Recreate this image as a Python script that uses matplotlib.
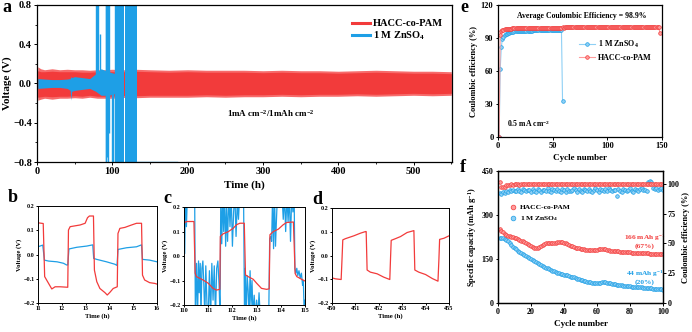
import matplotlib
matplotlib.use('Agg')
from matplotlib import pyplot as plt
from matplotlib.ticker import MultipleLocator

RED = '#f23b3b'
RED_LIGHT = '#ff9c9c'
BLUE = '#1e9fe6'
BLUE_LIGHT = '#8fd0f5'

plt.rcParams['font.family'] = ['Liberation Serif', 'DejaVu Serif']
plt.rcParams['font.weight'] = 'bold'
plt.rcParams['axes.labelweight'] = 'bold'
plt.rcParams['mathtext.default'] = 'regular'
plt.rcParams['axes.linewidth'] = 0.9

# ---- panel a: long-term cycling (envelopes)
red_env_t = [1, 5, 10, 20, 30, 40, 50, 60, 70, 80, 90, 100, 110, 120, 130, 150, 175,
             200, 225, 250, 275, 300, 325, 350, 375, 400, 425, 450, 475, 500, 525, 550]
red_env_hi = [0.17, 0.15, 0.14, 0.15, 0.14, 0.145, 0.14, 0.14, 0.135, 0.14, 0.14, 0.145,
              0.14, 0.14, 0.145, 0.14, 0.135, 0.14, 0.135, 0.135, 0.135, 0.13, 0.135,
              0.13, 0.13, 0.125, 0.13, 0.135, 0.13, 0.125, 0.125, 0.12]
red_env_lo = [-0.17, -0.16, -0.15, -0.16, -0.15, -0.15, -0.145, -0.15, -0.14, -0.15,
              -0.15, -0.15, -0.145, -0.14, -0.145, -0.14, -0.14, -0.14, -0.135, -0.14,
              -0.135, -0.135, -0.13, -0.135, -0.13, -0.13, -0.125, -0.13, -0.125, -0.12,
              -0.125, -0.12]
# the dense core of the band (fully overlapped cycles)
red_core_hi = [0.13, 0.12, 0.12, 0.125, 0.12, 0.12, 0.12, 0.115, 0.115, 0.12, 0.12, 0.12,
               0.12, 0.12, 0.125, 0.12, 0.115, 0.12, 0.115, 0.115, 0.115, 0.11, 0.115,
               0.11, 0.11, 0.105, 0.11, 0.115, 0.11, 0.105, 0.105, 0.1]
red_core_lo = [-0.14, -0.135, -0.13, -0.135, -0.13, -0.13, -0.125, -0.13, -0.12, -0.13,
               -0.13, -0.13, -0.125, -0.12, -0.125, -0.12, -0.12, -0.12, -0.115, -0.12,
               -0.115, -0.115, -0.11, -0.115, -0.11, -0.11, -0.105, -0.11, -0.105, -0.1,
               -0.105, -0.1]

blue_env_t = [1, 10, 20, 30, 40, 44, 45, 46, 50, 60, 70, 78, 85, 95, 104]
blue_env_hi = [0.05, 0.045, 0.04, 0.04, 0.045, 0.05, 0.07, 0.06, 0.07, 0.06, 0.05, 0.1,
               0.15, 0.12, 0.1]
blue_env_lo = [-0.05, -0.045, -0.04, -0.04, -0.05, -0.07, -0.17, -0.08, -0.07, -0.06,
               -0.05, -0.08, -0.12, -0.12, -0.1]

spike_t = [78, 79.5, 81, 83, 91, 92, 93, 94, 95, 99, 101, 103]
spike_lo = [-0.05, 0.0, 0.0, -0.02, -0.8, -0.8, -0.75, -0.8, -0.5, -0.8, -0.8, -0.8]
spike_hi = [0.8, 0.8, 0.8, 0.5, 0.8, 0.8, 0.8, 0.8, 0.8, 0.1, 0.05, 0.8]

block_start = [104.5, 110.5, 116.5, 122.0, 127.5]
block_end = [110.0, 116.0, 121.8, 127.0, 133.0]

# ---- panels b, c, d: voltage profiles
b_red_t = [11.0, 11.22, 11.28, 11.45, 11.58, 11.72, 11.93, 12.25, 12.28, 12.35, 12.77,
           12.98, 13.08, 13.16, 13.33, 13.37, 13.47, 13.6, 13.81, 13.91, 14.02, 14.16,
           14.33, 14.36, 14.44, 14.65, 14.93, 15.14, 15.35, 15.39, 15.48, 15.69, 15.9, 16.0]
b_red_v = [0.131, 0.128, -0.091, -0.12, -0.142, -0.133, -0.133, -0.135, 0.101, 0.115,
           0.122, 0.129, 0.152, 0.159, 0.159, -0.064, -0.112, -0.14, -0.157, -0.167,
           -0.156, -0.14, -0.133, 0.087, 0.108, 0.112, 0.122, 0.129, 0.129, -0.085,
           -0.105, -0.116, -0.119, -0.122]
b_blue_t = [11.0, 11.2, 11.27, 11.45, 11.8, 12.07, 12.2, 12.25, 12.3, 12.63, 13.05, 13.3,
            13.34, 13.47, 13.88, 14.23, 14.32, 14.36, 14.72, 15.14, 15.35, 15.39, 15.69, 16.0]
b_blue_v = [0.032, 0.039, -0.023, -0.027, -0.03, -0.036, -0.043, -0.043, 0.023, 0.03,
            0.035, 0.04, -0.016, -0.02, -0.03, -0.04, -0.045, 0.021, 0.028, 0.032, 0.04,
            -0.02, -0.023, -0.03]

c_red_t = [110.0, 110.1, 110.41, 110.46, 110.51, 110.79, 111.0, 111.2, 111.34, 111.48,
           111.5, 111.62, 111.82, 112.03, 112.17, 112.31, 112.49, 112.54, 112.65, 112.86,
           113.0, 113.2, 113.41, 113.52, 113.55, 113.69, 113.9, 114.1, 114.24, 114.52,
           114.59, 114.66, 114.86, 115.0]
c_red_v = [0.134, 0.141, 0.141, -0.07, -0.084, -0.098, -0.111, -0.132, -0.139, -0.136,
           0.08, 0.091, 0.099, 0.113, 0.128, 0.134, 0.134, -0.077, -0.084, -0.095,
           -0.111, -0.132, -0.136, -0.134, 0.087, 0.1, 0.11, 0.128, 0.137, 0.139,
           -0.071, -0.084, -0.095, -0.102]
c_blue = [(110.00, 0.25), (110.03, 0.01), (110.06, 0.25), (110.10, 0.12), (110.14, 0.25),
          (110.44, 0.25), (110.47, -0.25), (110.52, -0.03), (110.56, -0.25), (110.60, -0.02),
          (110.63, -0.15), (110.67, -0.03), (110.70, -0.25), (110.74, -0.05), (110.78, -0.02),
          (110.82, -0.12), (110.86, -0.25), (110.90, -0.04), (110.95, -0.20), (111.00, -0.25),
          (111.05, -0.06), (111.10, -0.25), (111.15, -0.03), (111.20, -0.18), (111.25, -0.04),
          (111.30, -0.25), (111.35, -0.05), (111.40, -0.02), (111.45, -0.12), (111.49, -0.25),
          (111.52, 0.25), (111.56, 0.05), (111.60, 0.25), (111.64, 0.10), (111.68, 0.25),
          (111.72, 0.04), (111.76, 0.20), (111.80, 0.06), (111.85, 0.25), (111.90, 0.12),
          (111.95, 0.25), (112.00, 0.04), (112.05, 0.18), (112.10, 0.25), (112.15, 0.08),
          (112.20, 0.22), (112.25, 0.15), (112.30, 0.25), (112.46, 0.25), (112.50, -0.25),
          (112.53, -0.05), (112.57, -0.25), (112.61, -0.08), (112.65, -0.14), (112.69, -0.25),
          (112.73, -0.06), (112.77, -0.20), (112.81, -0.10), (112.85, -0.25), (112.90, -0.16),
          (112.95, -0.25), (113.00, -0.18), (113.05, -0.25), (113.10, -0.15), (113.15, -0.25),
          (113.50, -0.25), (113.54, 0.07), (113.58, 0.08), (113.62, 0.06), (113.66, 0.25),
          (113.70, 0.03), (113.74, 0.25), (113.78, 0.04), (113.82, 0.15), (113.86, 0.25),
          (114.05, 0.25), (114.10, 0.15), (114.15, 0.25), (114.20, 0.10), (114.25, 0.25),
          (114.30, 0.14), (114.35, 0.25), (114.40, 0.06), (114.45, 0.25), (114.50, 0.18),
          (114.55, 0.25), (114.58, -0.05), (114.62, -0.07), (114.66, -0.05), (114.70, -0.08),
          (114.75, -0.06), (114.80, -0.09), (114.85, -0.07), (114.90, -0.12), (114.93, -0.10),
          (114.97, -0.25), (115.00, -0.18)]

d_red_t = [450.0, 450.14, 450.39, 450.43, 450.46, 450.57, 450.93, 451.21, 451.43, 451.46,
           451.5, 451.64, 451.93, 452.21, 452.47, 452.5, 452.53, 452.71, 452.93, 453.21,
           453.5, 453.54, 453.71, 454.0, 454.29, 454.53, 454.57, 454.6, 454.79, 455.0]
d_red_v = [-0.094, -0.098, -0.101, -0.009, 0.066, 0.071, 0.083, 0.094, 0.101, 0.101,
           -0.061, -0.07, -0.077, -0.091, -0.101, -0.016, 0.064, 0.071, 0.08, 0.097,
           0.105, -0.061, -0.07, -0.08, -0.097, -0.108, -0.016, 0.068, 0.073, 0.083]

# ---- panel e: Coulombic efficiency
e_red_ce = [0.0, 93.0, 96.0, 97.0, 97.5, 97.9, 98.1, 98.3, 98.4, 98.5,
            98.6, 98.6, 98.7, 98.7, 98.8, 98.8, 98.8, 98.9, 98.9, 98.9,
            98.9, 99.0, 98.9, 99.0, 99.0, 99.0, 99.1, 99.0, 99.1, 99.1,
            99.1, 99.1, 99.2, 99.1, 99.2, 99.2, 99.2, 99.2, 99.3, 99.2,
            99.3, 99.3, 99.3, 99.3, 99.4, 99.3, 99.4, 99.4, 99.4, 99.4,
            99.4, 99.5, 99.4, 99.5, 99.5, 99.5, 99.5, 99.5, 99.6, 99.5,
            99.6, 99.6, 99.6, 99.6, 99.6, 99.6, 99.7, 99.6, 99.7, 99.7,
            99.7, 99.7, 99.7, 99.7, 99.7, 99.8, 99.7, 99.8, 99.8, 99.8,
            99.8, 99.8, 99.8, 99.8, 99.8, 99.8, 99.9, 99.8, 99.9, 99.9,
            99.9, 99.9, 99.9, 99.9, 99.9, 99.9, 99.9, 99.9, 99.9, 100.0,
            99.9, 100.0, 99.9, 100.0, 100.0, 99.9, 100.0, 100.0, 99.9, 100.0,
            100.0, 100.0, 99.9, 100.0, 100.0, 100.0, 100.0, 99.9, 100.0, 100.0,
            100.0, 100.0, 100.0, 100.0, 99.9, 100.0, 100.0, 100.0, 100.0, 100.0,
            100.0, 100.0, 100.0, 100.0, 100.0, 100.0, 100.0, 100.0, 100.0, 100.0,
            100.0, 100.0, 100.0, 100.0, 100.0, 100.0, 100.2, 94.5]
e_blue_ce = [0.0, 62.0, 82.0, 89.0, 91.0, 92.5, 93.5, 94.0, 94.5, 95.0,
             95.2, 95.4, 95.6, 95.8, 96.0, 96.1, 96.2, 96.3, 96.4, 96.5,
             96.5, 96.6, 96.6, 96.6, 96.7, 96.7, 96.7, 96.8, 96.8, 96.8,
             96.8, 96.9, 96.9, 96.9, 96.9, 96.9, 97.0, 97.0, 97.0, 97.0,
             97.0, 97.0, 97.0, 97.1, 97.1, 97.1, 97.1, 97.1, 97.1, 97.1,
             97.2, 97.2, 97.2, 97.2, 97.2, 97.2, 97.2, 97.2, 33.0]

# ---- panel f: full cell
f_red_cap = [251, 246, 241, 236, 232, 230, 228, 226, 224, 223,
             221, 219, 216, 213, 210, 207, 204, 200, 197, 194,
             191, 188, 187, 188, 191, 194, 197, 200, 203, 205,
             205, 204, 204, 205, 206, 207, 208, 209, 208, 206,
             203, 201, 198, 196, 193, 191, 189, 188, 186, 185,
             184, 183, 182, 182, 182, 181, 181, 182, 182, 182,
             183, 184, 184, 184, 183, 182, 180, 179, 178, 178,
             177, 176, 176, 175, 175, 174, 174, 174, 173, 173,
             172, 172, 171, 171, 171, 170, 170, 170, 169, 169,
             169, 168, 168, 168, 167, 167, 167, 166, 166, 166]
f_blue_cap = [222, 221, 220, 218, 215, 210, 204, 198, 192, 187,
              183, 179, 175, 171, 167, 163, 159, 156, 152, 149,
              146, 143, 140, 137, 134, 131, 127, 124, 121, 118,
              115, 113, 110, 108, 106, 104, 102, 100, 98, 97,
              95, 94, 92, 90, 89, 87, 85, 83, 81, 79,
              77, 75, 74, 72, 71, 70, 69, 69, 68, 68,
              68, 69, 70, 70, 70, 69, 68, 67, 66, 65,
              64, 63, 62, 61, 60, 59, 58, 58, 57, 57,
              56, 55, 55, 54, 54, 53, 53, 52, 52, 51,
              51, 50, 50, 49, 49, 48, 48, 47, 47, 46]
f_red_ce = [101.5, 97.5, 97.0, 97.6, 98.8, 99.2, 99.0, 99.4, 99.1, 99.5,
            99.3, 99.6, 99.2, 99.5, 99.4, 99.7, 99.3, 99.6, 99.5, 99.8,
            99.4, 99.6, 99.3, 99.7, 99.5, 99.8, 99.6, 99.4, 99.7, 99.5,
            99.8, 99.6, 99.9, 99.5, 99.7, 99.6, 99.8, 99.5, 99.7, 99.9,
            99.6, 99.8, 99.5, 99.7, 99.6, 99.9, 99.7, 99.5, 99.8, 99.6,
            99.4, 99.7, 99.9, 99.6, 99.8, 99.5, 99.7, 99.6, 99.9, 99.7,
            99.5, 99.8, 99.6, 99.4, 99.7, 99.9, 99.6, 99.8, 99.5, 99.7,
            99.6, 99.9, 99.7, 99.5, 99.8, 99.6, 99.7, 99.9, 99.5, 99.8,
            99.6, 99.7, 99.4, 99.8, 99.6, 99.9, 99.7, 99.5, 99.8, 99.6,
            99.7, 99.9, 99.6, 99.8, 99.5, 99.7, 99.9, 99.6, 99.8, 99.7]
f_blue_ce = [92.0, 91.5, 93.0, 92.2, 94.0, 93.1, 94.5, 93.6, 95.0, 94.2,
             93.5, 95.2, 94.0, 93.2, 95.5, 94.4, 93.8, 95.0, 94.6, 93.4,
             95.3, 94.1, 93.0, 95.6, 94.3, 92.8, 95.1, 94.7, 93.5, 96.0,
             94.2, 93.0, 95.4, 94.8, 93.6, 95.9, 94.0, 92.9, 95.2, 94.5,
             93.3, 95.7, 94.1, 93.8, 95.0, 96.2, 94.4, 93.1, 95.5, 94.0,
             92.7, 95.3, 94.6, 93.9, 95.8, 94.2, 93.4, 95.1, 96.0, 94.3,
             93.0, 95.6, 94.8, 93.5, 95.2, 94.1, 96.3, 94.7, 93.6, 95.0,
             94.4, 89.5, 95.4, 94.0, 93.2, 95.9, 94.5, 93.7, 95.1, 96.1,
             94.2, 93.3, 95.7, 94.6, 93.9, 95.3, 96.4, 94.8, 95.0, 94.1,
             101.5, 102.5, 101.0, 96.5, 95.2, 96.0, 94.7, 95.5, 96.2, 95.0]


def style_ticks(ax, size, length=2.2):
    ax.tick_params(direction='out', labelsize=size, length=length, width=0.7, pad=1.5)
    ax.tick_params(which='minor', direction='out', length=length * 0.55, width=0.6)


def plot_a(fig):
    ax = fig.add_axes([0.0535, 0.512, 0.5997, 0.473])
    ax.fill_between(red_env_t, red_env_lo, red_env_hi, color='#f76b6b', lw=0)
    ax.fill_between(red_env_t, red_core_lo, red_core_hi, color=RED, lw=0)
    ax.fill_between(blue_env_t, blue_env_lo, blue_env_hi, color=BLUE, lw=0)
    ax.vlines(spike_t, spike_lo, spike_hi, color=BLUE, lw=1.0)
    for s, e in zip(block_start, block_end):
        ax.fill_between([s, e], [-0.8, -0.8], [0.8, 0.8], color=BLUE, lw=0)
    ax.plot([133, 186], [-0.795, -0.795], color=BLUE, lw=1.0)
    ax.plot([], [], color=RED, lw=2.2, label='HACC-co-PAM')
    ax.plot([], [], color=BLUE, lw=2.2, label='1 M ZnSO$_4$')
    ax.legend(loc='upper right', bbox_to_anchor=(1.0, 0.97), frameon=False,
              fontsize=7.5, handlelength=1.7, handletextpad=0.3, labelspacing=0.1)
    ax.text(252, -0.31, '1mA cm$^{-2}$/1mAh cm$^{-2}$', fontsize=6.5, va='center')
    ax.set_xlim(0, 551)
    ax.set_ylim(-0.8, 0.8)
    ax.set_yticks([-0.8, -0.4, 0.0, 0.4, 0.8])
    ax.xaxis.set_minor_locator(MultipleLocator(50))
    ax.yaxis.set_minor_locator(MultipleLocator(0.2))
    ax.set_xlabel('Time (h)', fontsize=8, labelpad=3)
    ax.set_ylabel('Voltage (V)', fontsize=8, labelpad=1)
    style_ticks(ax, 7.5)


def plot_profile(fig, rect, xlim, xticks, red_t, red_v, blue_t=None, blue_v=None):
    ax = fig.add_axes(rect)
    if blue_t is not None:
        ax.plot(blue_t, blue_v, color=BLUE, lw=0.9)
    ax.plot(red_t, red_v, color=RED, lw=0.9)
    ax.set_xlim(*xlim)
    ax.set_ylim(-0.2, 0.2)
    ax.set_xticks(xticks)
    ax.set_yticks([-0.2, -0.1, 0.0, 0.1, 0.2])
    ax.set_xlabel('Time (h)', fontsize=4.8, labelpad=1.5)
    ax.set_ylabel('Voltage (V)', fontsize=4.8, labelpad=1)
    style_ticks(ax, 4.4, length=1.5)
    ax.tick_params(pad=1)
    for sp in ax.spines.values():
        sp.set_linewidth(0.7)
    return ax


def plot_e(fig):
    ax = fig.add_axes([0.7197, 0.5873, 0.237, 0.3976])
    cyc_red = list(range(1, len(e_red_ce) + 1))
    cyc_blue = list(range(1, len(e_blue_ce) + 1))
    ax.plot(cyc_blue, e_blue_ce, color=BLUE_LIGHT, lw=0.8, marker='o', ms=2.6,
            mfc=BLUE_LIGHT, mec=BLUE, mew=0.5, label='1 M ZnSO$_4$')
    ax.plot(cyc_red, e_red_ce, color=RED_LIGHT, lw=0.8, marker='o', ms=2.6,
            mfc=RED_LIGHT, mec=RED, mew=0.5, label='HACC-co-PAM')
    ax.legend(loc='upper left', bbox_to_anchor=(0.45, 0.80), frameon=False, fontsize=5.8,
              handlelength=2.0, handletextpad=0.4, labelspacing=0.5)
    ax.text(77, 110, 'Average Coulombic Efficiency = 98.9%', fontsize=5.6, ha='center',
            va='center')
    ax.text(8, 12, '0.5 mA cm$^{-2}$', fontsize=5.6, va='center')
    ax.set_xlim(0, 150)
    ax.set_ylim(0, 120)
    ax.set_xticks([0, 50, 100, 150])
    ax.set_yticks([0, 30, 60, 90, 120])
    ax.set_xlabel('Cycle number', fontsize=6.5, labelpad=3)
    ax.set_ylabel('Coulombic efficiency (%)', fontsize=6, labelpad=2)
    style_ticks(ax, 6, length=1.8)


def plot_f(fig):
    ax = fig.add_axes([0.7197, 0.0873, 0.2384, 0.3976])
    ax2 = ax.twinx()
    cyc = list(range(1, len(f_red_cap) + 1))
    ax2.plot(cyc, f_blue_ce, ls='none', marker='o', ms=2.6, mfc=BLUE_LIGHT, mec=BLUE, mew=0.5)
    ax2.plot(cyc, f_red_ce, ls='none', marker='o', ms=2.6, mfc=RED_LIGHT, mec=RED, mew=0.5)
    ax.plot(cyc, f_blue_cap, ls='none', marker='o', ms=2.6, mfc=BLUE_LIGHT, mec=BLUE, mew=0.5,
            label='1 M ZnSO$_4$')
    ax.plot(cyc, f_red_cap, ls='none', marker='o', ms=2.6, mfc=RED_LIGHT, mec=RED, mew=0.5,
            label='HACC-co-PAM')
    h, l = ax.get_legend_handles_labels()
    ax.legend(h[::-1], l[::-1], loc='upper left', bbox_to_anchor=(0.03, 0.80), frameon=False,
              fontsize=5.4, handlelength=1.0, handletextpad=0.4, labelspacing=0.55,
              markerscale=1.3)
    ax.text(89, 222, '166 mAh g$^{-1}$', color=RED, fontsize=5.3, ha='center', va='center')
    ax.text(89, 194, '(67%)', color=RED, fontsize=5.3, ha='center', va='center')
    ax.text(89, 100, '44 mAh g$^{-1}$', color=BLUE, fontsize=5.3, ha='center', va='center')
    ax.text(89, 72, '(20%)', color=BLUE, fontsize=5.3, ha='center', va='center')
    ax.set_xlim(0, 100)
    ax.set_ylim(0, 450)
    ax.set_xticks([0, 20, 40, 60, 80, 100])
    ax.set_yticks([0, 150, 300, 450])
    ax2.set_ylim(0, 110.6)
    ax2.set_yticks([0, 25, 50, 75, 100])
    ax.set_xlabel('Cycle number', fontsize=6.5, labelpad=3)
    ax.set_ylabel('Specific capacity (mAh g$^{-1}$)', fontsize=6, labelpad=2)
    ax2.set_ylabel('Coulombic efficiency (%)', fontsize=6, labelpad=2)
    style_ticks(ax, 5.8, length=1.8)
    style_ticks(ax2, 5.8, length=1.8)


def main():
    fig = plt.figure(figsize=(6.92, 3.32), dpi=100)
    plot_a(fig)
    plot_profile(fig, [0.0549, 0.0873, 0.172, 0.292], (11, 16), [11, 12, 13, 14, 15, 16],
                 b_red_t, b_red_v, b_blue_t, b_blue_v)
    c_blue_t = [p[0] for p in c_blue]
    c_blue_v = [p[1] for p in c_blue]
    plot_profile(fig, [0.2659, 0.0813, 0.1749, 0.295], (110, 115),
                 [110, 111, 112, 113, 114, 115], c_red_t, c_red_v, c_blue_t, c_blue_v)
    plot_profile(fig, [0.4798, 0.0873, 0.169, 0.286], (450, 455),
                 [450, 451, 452, 453, 454, 455], d_red_t, d_red_v)
    plot_e(fig)
    plot_f(fig)

    lab = dict(fontsize=13, fontweight='bold', va='baseline')
    fig.text(0.003, 1 - 12 / 332, 'a', **lab)
    fig.text(8 / 692, 1 - 202 / 332, 'b', **lab)
    fig.text(163 / 692, 1 - 203 / 332, 'c', **lab)
    fig.text(312 / 692, 1 - 204 / 332, 'd', **lab)
    fig.text(460 / 692, 1 - 12 / 332, 'e', **lab)
    fig.text(460 / 692, 1 - 172 / 332, 'f', **lab)

    plt.savefig('out.png', dpi=100)


main()
